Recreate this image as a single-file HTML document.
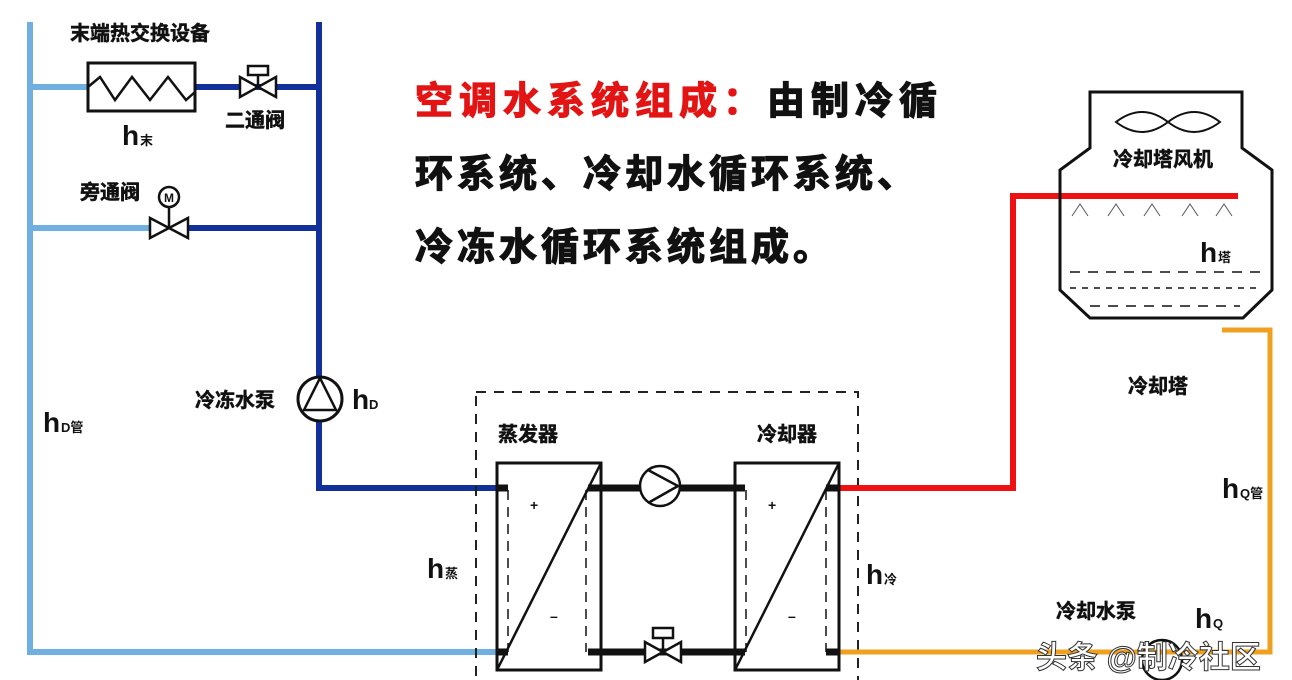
<!DOCTYPE html>
<html><head><meta charset="utf-8"><style>
html,body{margin:0;padding:0;background:#fff;}
svg{display:block;}
text{font-family:"Liberation Sans","Noto Sans CJK SC",sans-serif;font-weight:bold;}
</style></head><body>
<svg width="1292" height="680" viewBox="0 0 1292 680" xmlns="http://www.w3.org/2000/svg">
<rect width="1292" height="680" fill="#fff"/>
<g stroke="#6fb0e0" stroke-width="6" fill="none">
<polyline points="30,22 30,652 497,652"/>
<line x1="30" y1="87" x2="88" y2="87"/>
<line x1="30" y1="228" x2="150" y2="228"/>
</g>
<g stroke="#12309a" stroke-width="6" fill="none">
<polyline points="319,22 319,488 500,488"/>
<line x1="195" y1="87" x2="319" y2="87"/>
<line x1="188" y1="228" x2="319" y2="228"/>
</g>
<rect x="88" y="63" width="107" height="48" fill="#fff" stroke="#111" stroke-width="3"/>
<polyline points="88,87 100,77 115,100 132,77 150,100 168,77 186,100 195,92" fill="none" stroke="#111" stroke-width="2.5"/>
<text x="70" y="40" font-size="20" fill="#111" stroke="#111" stroke-width="0.5">末端热交换设备</text>
<text x="122" y="145" font-size="28" fill="#111">h</text><text x="140" y="145" font-size="13" fill="#111">末</text>
<g stroke="#111" stroke-width="2.5" fill="#fff">
<polygon points="240,77 240,97 258,87"/><polygon points="276,77 276,97 258,87"/>
<line x1="258" y1="87" x2="258" y2="75"/><rect x="248" y="66" width="20" height="9"/>
</g>
<text x="225" y="127" font-size="20" fill="#111" stroke="#111" stroke-width="0.5">二通阀</text>
<g stroke="#111" stroke-width="2.5" fill="#fff">
<polygon points="150,218 150,238 169,228"/><polygon points="188,218 188,238 169,228"/>
<line x1="169" y1="228" x2="169" y2="208"/><circle cx="169" cy="197" r="10"/>
</g>
<text x="169" y="202" font-size="12" fill="#111" text-anchor="middle">M</text>
<text x="80" y="199" font-size="20" fill="#111" stroke="#111" stroke-width="0.5">旁通阀</text>
<circle cx="320" cy="399" r="22" fill="#fff" stroke="#111" stroke-width="3"/>
<polygon points="320,378 304,410 336,410" fill="none" stroke="#111" stroke-width="2.5"/>
<text x="195" y="407" font-size="20" fill="#111" stroke="#111" stroke-width="0.5">冷冻水泵</text>
<text x="352" y="409" font-size="28" fill="#111">h</text><text x="369" y="409" font-size="13" fill="#111">D</text>
<text x="43" y="432" font-size="28" fill="#111">h</text><text x="61" y="432" font-size="13" fill="#111">D管</text>
<text x="427" y="578" font-size="28" fill="#111">h</text><text x="445" y="578" font-size="13" fill="#111">蒸</text>
<g stroke-width="1.2">
<text x="415" y="114" font-size="38" fill="#e31414" stroke="#e31414" letter-spacing="6">空调水系统组成：<tspan fill="#111" stroke="#111">由制冷循</tspan></text>
<text x="415" y="187" font-size="38" fill="#111" stroke="#111" letter-spacing="4">环系统、冷却水循环系统、</text>
<text x="415" y="260" font-size="38" fill="#111" stroke="#111" letter-spacing="4">冷冻水循环系统组成。</text>
</g>
<rect x="476" y="392" width="382" height="300" fill="none" stroke="#222" stroke-width="2" stroke-dasharray="10,8"/>
<text x="498" y="441" font-size="20" fill="#111" stroke="#111" stroke-width="0.5">蒸发器</text>
<text x="757" y="441" font-size="20" fill="#111" stroke="#111" stroke-width="0.5">冷却器</text>
<polyline points="839,488 1013,488 1013,196 1238,196" fill="none" stroke="#ee1111" stroke-width="6"/>
<polyline points="839,652 1270,652 1270,330 1222,330" fill="none" stroke="#f0a020" stroke-width="5"/>
<g stroke="#111" stroke-width="7">
<line x1="588" y1="488" x2="745" y2="488"/>
<line x1="588" y1="652" x2="745" y2="652"/>
<line x1="497" y1="488" x2="508" y2="488"/><line x1="497" y1="652" x2="508" y2="652"/>
<line x1="826" y1="488" x2="839" y2="488"/><line x1="826" y1="652" x2="839" y2="652"/>
</g>
<g fill="none" stroke="#111">
<rect x="497" y="463" width="104" height="207" stroke-width="3"/>
<line x1="497" y1="670" x2="601" y2="463" stroke-width="2.5"/>
<line x1="508" y1="490" x2="508" y2="652" stroke-width="1.5" stroke-dasharray="10,7"/>
<line x1="586" y1="490" x2="586" y2="652" stroke-width="1.5" stroke-dasharray="10,7"/>
<rect x="735" y="463" width="104" height="207" stroke-width="3"/>
<line x1="735" y1="670" x2="839" y2="463" stroke-width="2.5"/>
<line x1="746" y1="490" x2="746" y2="652" stroke-width="1.5" stroke-dasharray="10,7"/>
<line x1="826" y1="490" x2="826" y2="652" stroke-width="1.5" stroke-dasharray="10,7"/>
</g>
<text x="530" y="510" font-size="14" fill="#111" font-weight="normal">+</text>
<text x="550" y="621" font-size="14" fill="#111" font-weight="normal">–</text>
<text x="768" y="510" font-size="14" fill="#111" font-weight="normal">+</text>
<text x="788" y="621" font-size="14" fill="#111" font-weight="normal">–</text>
<circle cx="660" cy="486" r="20" fill="#fff" stroke="#111" stroke-width="2.5"/>
<polyline points="648,470 678,486 648,503" fill="none" stroke="#111" stroke-width="2.5"/>
<g stroke="#111" stroke-width="2.5" fill="#fff">
<polygon points="645,642 645,662 663,652"/><polygon points="681,642 681,662 663,652"/>
<line x1="663" y1="652" x2="663" y2="639"/><rect x="653" y="628" width="20" height="10"/>
</g>
<text x="866" y="584" font-size="28" fill="#111">h</text><text x="884" y="584" font-size="13" fill="#111">冷</text>
<polygon points="1090,92 1242,92 1242,148 1272,170 1272,290 1243,318 1090,318 1060,290 1060,170 1090,148" fill="none" stroke="#111" stroke-width="3"/>
<path d="M1116,122 Q1142,102 1168,122 Q1142,142 1116,122 Z M1168,122 Q1194,102 1220,122 Q1194,142 1168,122 Z" fill="none" stroke="#111" stroke-width="2"/>
<text x="1113" y="166" font-size="20" fill="#111" stroke="#111" stroke-width="0.5">冷却塔风机</text>
<g stroke="#555" stroke-width="1" fill="none">
<polyline points="1072,216 1080,204 1088,216"/><polyline points="1108,216 1116,204 1124,216"/>
<polyline points="1144,216 1152,204 1160,216"/><polyline points="1182,216 1190,204 1198,216"/>
<polyline points="1216,216 1224,204 1232,216"/>
</g>
<text x="1200" y="262" font-size="28" fill="#111">h</text><text x="1218" y="262" font-size="13" fill="#111">塔</text>
<g stroke="#111" stroke-width="1.5">
<line x1="1070" y1="272" x2="1262" y2="272" stroke-dasharray="10,8"/>
<line x1="1070" y1="288" x2="1258" y2="288" stroke-dasharray="6,6"/>
<line x1="1090" y1="306" x2="1240" y2="306" stroke-dasharray="10,8"/>
</g>
<text x="1128" y="393" font-size="20" fill="#111" stroke="#111" stroke-width="0.5">冷却塔</text>
<text x="1222" y="498" font-size="28" fill="#111">h</text><text x="1240" y="498" font-size="13" fill="#111">Q管</text>
<text x="1056" y="618" font-size="20" fill="#111" stroke="#111" stroke-width="0.5">冷却水泵</text>
<text x="1195" y="628" font-size="28" fill="#111">h</text><text x="1213" y="628" font-size="13" fill="#111">Q</text>
<circle cx="1162" cy="660" r="20" fill="none" stroke="#111" stroke-width="2.5"/>
<text x="1036" y="668" font-size="31" fill="#fff" stroke="#333" stroke-width="1" font-weight="normal">头条 @制冷社区</text>
</svg>
</body></html>
